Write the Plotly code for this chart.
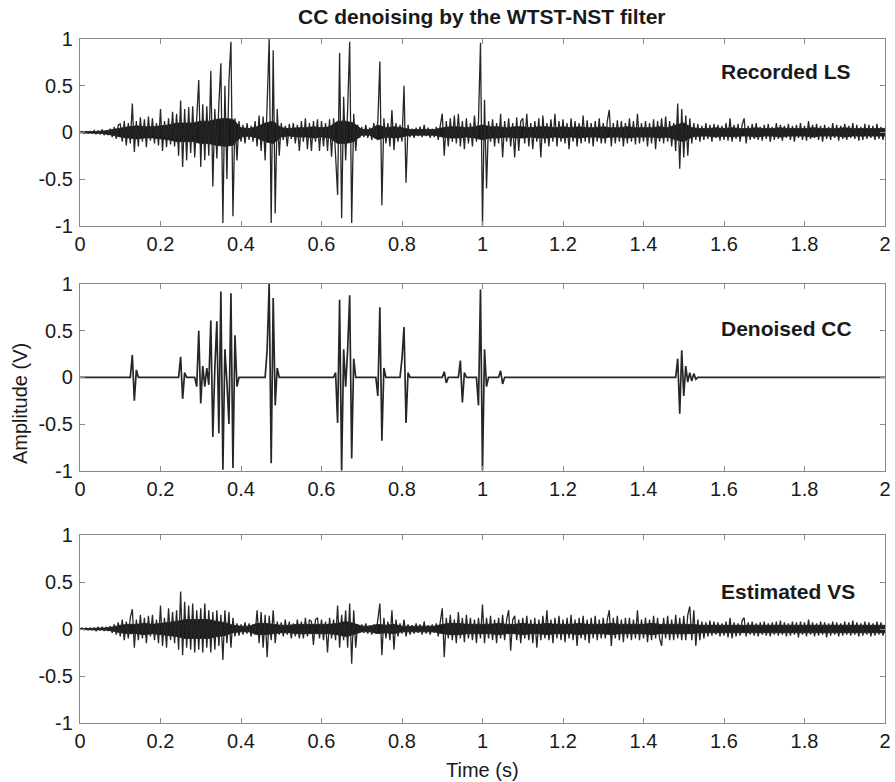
import numpy as np
import plotly.graph_objects as go

# ---------------- data ----------------
# sample times: 0 ... 2 s, every 5 ms (401 samples)
time_s = np.round(np.arange(401) * 0.005, 3)
# times of the solid dark core read every 20 ms (101 samples)
core_time_s = np.round(np.arange(101) * 0.02, 3)

recorded_ls = [
    0.00, 0.01, -0.01, 0.01, -0.01, 0.01, -0.01, 0.02, -0.02, 0.02, -0.02, 0.03, -0.03, 0.02, -0.03, 0.04, -0.05, 0.06, -0.07, 0.08,
    0.09, -0.10, 0.12, -0.14, 0.10, -0.12, 0.31, -0.21, 0.12, -0.15, 0.16, -0.10, 0.14, -0.16, 0.17, -0.09, 0.15, -0.12, 0.10, -0.14,
    0.25, -0.20, 0.12, -0.16, 0.15, -0.13, 0.22, -0.15, 0.20, -0.25, 0.34, -0.37, 0.25, -0.30, 0.27, -0.22, 0.28, -0.27, 0.15, 0.56,
    -0.37, 0.30, -0.30, 0.28, -0.25, 0.66, -0.58, 0.25, -0.28, 0.30, 0.74, -0.97, 0.50, -0.50, 0.55, 0.97, -0.90, 0.15, -0.30, 0.12,
    -0.10, 0.08, -0.12, 0.10, -0.08, 0.07, -0.10, 0.12, -0.15, 0.18, -0.20, 0.17, -0.30, 0.30, 1.00, -0.97, 0.88, -0.87, 0.25, -0.25,
    0.10, -0.08, 0.07, -0.15, 0.09, -0.07, 0.10, -0.12, 0.08, -0.20, 0.12, -0.10, 0.15, -0.18, 0.10, -0.20, 0.12, -0.10, 0.14, -0.20,
    0.12, -0.15, 0.10, -0.20, 0.14, -0.26, 0.15, -0.25, -0.67, 0.85, -0.92, 0.38, -0.30, 0.25, 0.97, -0.97, 0.20, -0.20, 0.08, -0.06,
    0.06, -0.05, 0.08, -0.06, 0.05, -0.08, 0.10, -0.07, 0.12, 0.76, -0.78, 0.15, -0.12, 0.10, -0.15, 0.24, -0.19, 0.10, -0.10, 0.08,
    -0.10, 0.50, -0.54, 0.08, -0.05, 0.04, -0.06, 0.05, -0.04, 0.06, -0.05, 0.08, -0.04, 0.05, -0.06, 0.04, -0.05, 0.06, -0.08, 0.07,
    0.20, -0.25, 0.12, -0.15, 0.15, -0.10, 0.18, -0.12, 0.20, -0.15, 0.12, -0.18, 0.15, -0.12, 0.10, -0.15, 0.18, -0.10, 0.12, 0.96,
    -1.00, 0.35, -0.60, 0.12, -0.10, 0.14, -0.15, 0.10, -0.12, 0.20, -0.27, 0.12, -0.10, 0.15, -0.15, 0.10, -0.27, 0.16, -0.20, 0.12,
    0.15, -0.12, 0.20, -0.15, 0.10, -0.18, 0.12, -0.10, 0.15, -0.27, 0.18, -0.12, 0.10, -0.15, 0.14, -0.10, 0.20, -0.15, 0.12, -0.10,
    0.14, -0.12, 0.10, -0.18, 0.15, -0.10, 0.12, -0.15, 0.10, -0.12, 0.18, -0.10, 0.13, -0.12, 0.10, -0.15, 0.12, -0.10, 0.15, -0.12,
    0.10, -0.12, 0.12, 0.24, -0.15, 0.10, -0.12, 0.13, -0.10, 0.12, -0.15, 0.10, -0.12, 0.15, -0.10, 0.12, -0.13, 0.20, -0.12, 0.10,
    -0.10, 0.12, -0.15, 0.10, -0.12, 0.14, -0.18, 0.12, -0.10, 0.15, -0.12, 0.17, -0.10, 0.12, -0.15, 0.10, -0.20, 0.31, -0.39, 0.25,
    -0.27, 0.18, -0.25, 0.15, -0.12, 0.10, -0.08, 0.09, -0.10, 0.07, -0.08, 0.10, -0.07, 0.08, -0.10, 0.09, -0.06, 0.08, -0.09, 0.07,
    -0.08, 0.10, -0.09, 0.15, -0.10, 0.08, -0.07, 0.09, -0.10, 0.08, 0.15, -0.12, 0.07, -0.08, 0.09, -0.07, 0.10, -0.08, 0.06, -0.09,
    0.08, -0.07, 0.09, -0.10, 0.06, -0.08, 0.10, -0.07, 0.08, -0.09, 0.07, -0.06, 0.09, -0.08, 0.07, -0.10, 0.08, -0.06, 0.10, -0.08,
    0.07, -0.09, 0.12, -0.07, 0.08, -0.06, 0.09, -0.08, 0.07, -0.10, 0.08, -0.07, 0.06, -0.08, 0.10, -0.06, 0.08, -0.09, 0.07, -0.07,
    0.09, -0.08, 0.07, -0.06, 0.10, -0.07, 0.08, -0.09, 0.06, -0.08, 0.09, -0.07, 0.08, -0.06, 0.07, -0.08, 0.09, -0.07, 0.06, -0.08,
    0.05,
]

denoised_cc = [
    0, 0, 0, 0, 0, 0, 0, 0, 0, 0, 0, 0, 0, 0, 0, 0, 0, 0, 0, 0,
    0, 0, 0, 0, 0, 0, 0.24, -0.25, 0.08, 0, 0, 0, 0, 0, 0, 0, 0, 0, 0, 0,
    0, 0, 0, 0, 0, 0, 0, 0, 0, 0, 0.22, -0.23, 0.05, 0, 0, 0, 0, 0, -0.10, 0.50,
    -0.28, 0.12, -0.10, 0.10, -0.08, 0.61, -0.64, 0.10, 0.60, -0.60, 0.92, -0.99, 0.30, -0.05, -0.50, 0.90, -0.97, 0.45, -0.10, 0,
    0, 0, 0, 0, 0, 0, 0, 0, 0, 0, 0, 0, 0, 0.30, 1.00, -0.92, 0.85, -0.30, 0.10, 0,
    0, 0, 0, 0, 0, 0, 0, 0, 0, 0, 0, 0, 0, 0, 0, 0, 0, 0, 0, 0,
    0, 0, 0, 0, 0, 0, 0, 0.05, -0.49, 0.83, -1.00, 0.30, -0.10, 0.30, 0.88, -0.87, 0.20, 0, 0, 0,
    0, 0, 0, 0, 0, 0, 0, 0, -0.20, 0.75, -0.68, 0.10, 0, 0, 0, 0, 0, 0, 0, 0,
    0.20, 0.54, -0.49, 0.05, 0, 0, 0, 0, 0, 0, 0, 0, 0, 0, 0, 0, 0, 0, 0, 0,
    0, 0.06, -0.06, 0, 0, 0, 0, 0, 0, 0.18, -0.27, 0.05, 0, 0, 0, 0, 0, 0, -0.30, 0.94,
    -1.00, 0.30, -0.10, 0, 0, 0, 0, 0, 0, 0.07, -0.07, 0, 0, 0, 0, 0, 0, 0, 0, 0,
    0, 0, 0, 0, 0, 0, 0, 0, 0, 0, 0, 0, 0, 0, 0, 0, 0, 0, 0, 0,
    0, 0, 0, 0, 0, 0, 0, 0, 0, 0, 0, 0, 0, 0, 0, 0, 0, 0, 0, 0,
    0, 0, 0, 0, 0, 0, 0, 0, 0, 0, 0, 0, 0, 0, 0, 0, 0, 0, 0, 0,
    0, 0, 0, 0, 0, 0, 0, 0, 0, 0, 0, 0, 0, 0, 0, 0, 0, 0.20, -0.39, 0.29,
    -0.20, 0.12, -0.05, 0.05, -0.04, 0.04, -0.02, 0, 0, 0, 0, 0, 0, 0, 0, 0, 0, 0, 0, 0,
    0, 0, 0, 0, 0, 0, 0, 0, 0, 0, 0, 0, 0, 0, 0, 0, 0, 0, 0, 0,
    0, 0, 0, 0, 0, 0, 0, 0, 0, 0, 0, 0, 0, 0, 0, 0, 0, 0, 0, 0,
    0, 0, 0, 0, 0, 0, 0, 0, 0, 0, 0, 0, 0, 0, 0, 0, 0, 0, 0, 0,
    0, 0, 0, 0, 0, 0, 0, 0, 0, 0, 0, 0, 0, 0, 0, 0, 0, 0, 0, 0,
    0,
]

estimated_vs = [
    0.00, 0.01, -0.01, 0.01, -0.01, 0.01, -0.01, 0.01, -0.02, 0.02, -0.01, 0.02, -0.02, 0.02, -0.02, 0.03, -0.04, 0.05, -0.06, 0.07,
    -0.08, 0.10, -0.12, 0.08, -0.10, 0.12, 0.21, -0.20, 0.10, -0.12, 0.15, -0.10, 0.12, -0.15, 0.14, -0.08, 0.15, -0.12, 0.10, -0.15,
    0.25, -0.18, 0.12, -0.20, 0.22, -0.12, 0.18, -0.15, 0.20, -0.22, 0.40, -0.28, 0.29, -0.20, 0.25, -0.22, 0.27, -0.25, 0.20, -0.22,
    0.22, -0.25, 0.27, -0.20, 0.20, -0.25, 0.18, -0.22, 0.20, -0.18, 0.15, -0.33, 0.20, -0.15, 0.18, -0.20, 0.12, -0.08, 0.06, -0.07,
    0.05, -0.06, 0.07, -0.05, 0.06, -0.08, 0.05, -0.06, 0.20, -0.15, 0.18, -0.20, 0.15, -0.30, 0.14, -0.12, 0.20, -0.15, 0.08, -0.06,
    0.07, -0.08, 0.10, -0.06, 0.08, -0.10, 0.06, -0.08, 0.10, -0.10, 0.08, -0.10, 0.12, -0.08, 0.10, 0.08, -0.17, 0.10, 0.12, -0.10,
    0.10, -0.12, 0.08, -0.25, 0.12, -0.10, 0.10, -0.12, 0.25, -0.20, 0.15, -0.12, 0.20, -0.20, 0.27, -0.37, 0.20, -0.20, 0.05, -0.04,
    0.05, -0.04, 0.06, -0.05, 0.04, -0.06, 0.05, -0.05, 0.10, 0.27, -0.28, 0.12, -0.10, 0.08, -0.12, 0.20, -0.22, 0.10, -0.08, 0.06,
    -0.05, 0.10, -0.08, 0.05, -0.06, 0.04, -0.05, 0.06, -0.04, 0.05, -0.06, 0.08, -0.05, 0.04, -0.06, 0.05, -0.04, 0.06, -0.08, 0.07,
    0.22, -0.30, 0.12, -0.10, 0.15, -0.12, 0.10, -0.15, 0.18, -0.10, 0.12, -0.14, 0.15, -0.10, 0.12, -0.12, 0.10, -0.15, 0.12, -0.10,
    0.26, -0.15, 0.12, -0.10, 0.14, -0.12, 0.10, -0.15, 0.12, -0.10, 0.15, -0.12, 0.10, 0.20, -0.23, 0.10, 0.14, -0.12, 0.10, -0.15,
    0.12, -0.10, 0.14, -0.12, 0.10, -0.15, 0.12, -0.20, 0.10, -0.12, 0.14, -0.10, 0.20, -0.12, 0.10, -0.15, 0.12, -0.10, 0.14, -0.12,
    0.10, -0.14, 0.12, -0.10, 0.15, -0.12, 0.10, -0.18, 0.12, -0.10, 0.14, -0.12, 0.10, -0.15, 0.12, -0.10, 0.14, -0.12, 0.10, -0.10,
    0.12, -0.10, 0.10, 0.20, -0.18, 0.12, -0.10, 0.14, -0.12, 0.10, -0.14, 0.12, -0.10, 0.12, -0.12, 0.10, -0.10, 0.20, -0.12, 0.10,
    -0.10, 0.12, -0.14, 0.10, -0.12, 0.14, -0.10, 0.12, -0.10, -0.18, 0.12, -0.10, 0.14, -0.12, 0.10, -0.12, 0.15, -0.10, 0.12, -0.12,
    0.14, -0.12, 0.15, 0.24, -0.12, 0.20, -0.18, 0.10, -0.12, 0.08, -0.10, 0.07, -0.08, 0.09, -0.07, 0.08, -0.06, 0.07, -0.08, 0.06,
    -0.07, 0.08, -0.09, 0.12, -0.10, 0.07, -0.08, 0.06, -0.07, 0.09, 0.12, -0.08, 0.07, -0.06, 0.08, -0.07, 0.06, -0.08, 0.07, -0.06,
    0.08, -0.07, 0.06, -0.08, 0.07, -0.06, 0.08, -0.07, 0.09, -0.06, 0.07, -0.08, 0.06, -0.07, 0.08, -0.06, 0.07, -0.09, 0.08, -0.06,
    0.07, -0.08, 0.10, -0.06, 0.07, -0.08, 0.06, -0.07, 0.08, -0.06, 0.07, -0.09, 0.06, -0.07, 0.08, -0.06, 0.07, -0.08, 0.06, -0.07,
    0.08, -0.06, 0.07, -0.07, 0.09, -0.06, 0.07, -0.08, 0.06, -0.07, 0.08, -0.06, 0.07, -0.08, 0.06, -0.07, 0.08, -0.06, 0.07, -0.07,
    0.04,
]

# half-height of the solid dark core of the waveform (every 20 ms)
recorded_core = [
    0.005, 0.005, 0.01, 0.015, 0.03, 0.05, 0.06, 0.07, 0.06, 0.06,
    0.07, 0.08, 0.10, 0.10, 0.10, 0.12, 0.12, 0.14, 0.15, 0.14,
    0.05, 0.04, 0.06, 0.10, 0.12, 0.05, 0.04, 0.05, 0.05, 0.06,
    0.05, 0.06, 0.12, 0.12, 0.10, 0.03, 0.03, 0.08, 0.05, 0.06,
    0.05, 0.03, 0.03, 0.03, 0.03, 0.05, 0.06, 0.06, 0.05, 0.06,
    0.08, 0.06, 0.06, 0.05, 0.06, 0.06, 0.05, 0.06, 0.06, 0.05,
    0.06, 0.05, 0.06, 0.05, 0.05, 0.06, 0.05, 0.05, 0.06, 0.05,
    0.05, 0.05, 0.06, 0.05, 0.08, 0.10, 0.05, 0.04, 0.04, 0.05,
    0.04, 0.05, 0.04, 0.04, 0.05, 0.04, 0.04, 0.05, 0.04, 0.04,
    0.04, 0.05, 0.04, 0.04, 0.04, 0.05, 0.04, 0.04, 0.04, 0.04,
    0.04,
]
estimated_core = [
    0.005, 0.005, 0.01, 0.01, 0.02, 0.04, 0.05, 0.05, 0.06, 0.05,
    0.06, 0.07, 0.08, 0.10, 0.10, 0.10, 0.10, 0.08, 0.07, 0.04,
    0.03, 0.03, 0.06, 0.06, 0.05, 0.04, 0.04, 0.05, 0.05, 0.05,
    0.05, 0.05, 0.06, 0.08, 0.06, 0.03, 0.03, 0.05, 0.04, 0.05,
    0.03, 0.03, 0.03, 0.03, 0.03, 0.05, 0.06, 0.06, 0.05, 0.05,
    0.05, 0.05, 0.06, 0.05, 0.05, 0.06, 0.05, 0.05, 0.06, 0.05,
    0.05, 0.05, 0.06, 0.05, 0.05, 0.05, 0.06, 0.05, 0.05, 0.05,
    0.05, 0.06, 0.05, 0.05, 0.05, 0.05, 0.05, 0.04, 0.04, 0.04,
    0.04, 0.04, 0.04, 0.04, 0.04, 0.04, 0.04, 0.04, 0.04, 0.04,
    0.04, 0.04, 0.04, 0.04, 0.04, 0.04, 0.04, 0.04, 0.04, 0.04,
    0.04,
]

panel_labels = ["Recorded LS", "Denoised CC", "Estimated VS"]
x_tick_vals = [0, 0.2, 0.4, 0.6, 0.8, 1, 1.2, 1.4, 1.6, 1.8, 2]
x_tick_text = ["0", "0.2", "0.4", "0.6", "0.8", "1", "1.2", "1.4", "1.6", "1.8", "2"]
y_tick_vals = [-1, -0.5, 0, 0.5, 1]
y_tick_text = ["-1", "-0.5", "0", "0.5", "1"]
title_text = "CC denoising by the WTST-NST filter"
x_title = "Time (s)"
y_title = "Amplitude (V)"

# ---------------- figure ----------------
FONT = "Liberation Sans, Arial, Helvetica, sans-serif"
TXT = "#1a1a1a"
AX = "#8a8a8a"
LINE = "#262626"
CORE = "#1a1a1a"

W, H = 895, 782
ML, MR, MT, MB = 80, 10, 39, 59
PH = H - MT - MB
PW = W - ML - MR

def ydom(top_px, bot_px):
    return [(H - MB - bot_px) / PH, (H - MB - top_px) / PH]

domains = [ydom(39, 225.7), ydom(284, 470.7), ydom(535, 723)]
series = [recorded_ls, denoised_cc, estimated_vs]
cores = [recorded_core, None, estimated_core]
line_w = [1.3, 1.7, 1.3]
label_y = [0.65, 0.52, 0.40]

fig = go.Figure()
for i, (vals, dom) in enumerate(zip(series, domains)):
    suf = "" if i == 0 else str(i + 1)
    core = cores[i]
    if core is not None:
        cx = list(core_time_s) + list(core_time_s[::-1])
        cy = list(core) + [-v for v in core[::-1]]
        fig.add_trace(go.Scatter(
            x=cx, y=cy, mode="lines", fill="toself", fillcolor=CORE,
            line=dict(color=CORE, width=0.8),
            xaxis="x" + suf, yaxis="y" + suf, showlegend=False, hoverinfo="skip",
        ))
    fig.add_trace(go.Scatter(
        x=time_s, y=vals, mode="lines",
        line=dict(color=LINE, width=line_w[i], simplify=False),
        xaxis="x" + suf, yaxis="y" + suf, showlegend=False, hoverinfo="skip",
    ))
    axis_common = dict(
        showline=True, linecolor=AX, linewidth=1.2, mirror="ticks",
        ticks="inside", ticklen=5, tickcolor=AX, tickwidth=1.2,
        showgrid=False, zeroline=False,
        tickfont=dict(family=FONT, size=20, color=TXT),
    )
    fig.update_layout({
        "xaxis" + suf: dict(domain=[0, 1], range=[0, 2], anchor="y" + suf,
                             tickmode="array", tickvals=x_tick_vals, ticktext=x_tick_text,
                             ticklabelstandoff=0, automargin=False, **axis_common),
        "yaxis" + suf: dict(domain=dom, range=[-1, 1], anchor="x" + suf,
                             tickmode="array", tickvals=y_tick_vals, ticktext=y_tick_text,
                             ticklabelstandoff=2, automargin=False, **axis_common),
    })
    fig.add_annotation(
        x=1.588, y=label_y[i], xref="x" + suf, yref="y" + suf,
        text="<b>" + panel_labels[i] + "</b>", showarrow=False,
        xanchor="left", yanchor="middle",
        font=dict(family=FONT, size=21, color=TXT),
    )

fig.add_annotation(
    x=(481.5 - ML) / PW, y=(H - MB - 17) / PH, xref="paper", yref="paper",
    text="<b>" + title_text + "</b>", showarrow=False, xanchor="center", yanchor="middle",
    font=dict(family=FONT, size=21, color=TXT),
)
fig.add_annotation(
    x=(482 - ML) / PW, y=(H - MB - 770) / PH, xref="paper", yref="paper",
    text=x_title, showarrow=False, xanchor="center", yanchor="middle",
    font=dict(family=FONT, size=20, color=TXT),
)
fig.add_annotation(
    x=(20 - ML) / PW, y=(H - MB - 404) / PH, xref="paper", yref="paper",
    text=y_title, showarrow=False, xanchor="center", yanchor="middle", textangle=-90,
    font=dict(family=FONT, size=20, color=TXT),
)

fig.update_layout(
    width=W, height=H,
    margin=dict(l=ML, r=MR, t=MT, b=MB),
    paper_bgcolor="white", plot_bgcolor="white",
    showlegend=False,
)

fig.write_html(
    "out.html",
    config={"displayModeBar": False},
    post_script="document.body.style.margin='0';document.body.style.padding='0';",
)
